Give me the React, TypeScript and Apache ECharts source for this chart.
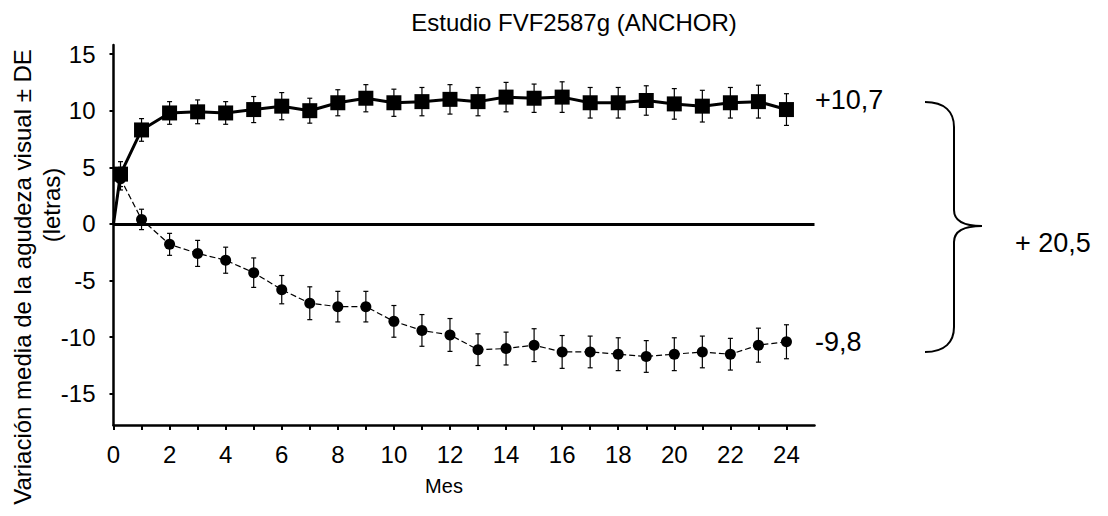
import React, { useEffect, useRef } from "react";
import * as echarts from "echarts";

const months = [0, 0.25, 1, 2, 3, 4, 5, 6, 7, 8, 9, 10, 11, 12, 13, 14, 15, 16, 17, 18, 19, 20, 21, 22, 23, 24];
const ranibizumab = [0, 4.4, 8.3, 9.8, 9.9, 9.8, 10.1, 10.4, 10.0, 10.7, 11.1, 10.7, 10.8, 11.0, 10.8, 11.2, 11.1, 11.2, 10.7, 10.7, 10.9, 10.6, 10.4, 10.7, 10.8, 10.1];
const ranibizumabSD = [0, 1.1, 1.0, 1.0, 1.05, 1.0, 1.15, 1.2, 1.1, 1.15, 1.2, 1.2, 1.25, 1.3, 1.25, 1.3, 1.25, 1.35, 1.35, 1.35, 1.3, 1.35, 1.4, 1.35, 1.45, 1.4];
const pdt = [0, 4.0, 0.4, -1.8, -2.6, -3.2, -4.3, -5.8, -7.0, -7.3, -7.3, -8.6, -9.4, -9.8, -11.1, -11.0, -10.7, -11.3, -11.3, -11.5, -11.7, -11.5, -11.3, -11.5, -10.7, -10.4];
const pdtSD = [0, 1.0, 0.9, 0.97, 1.15, 1.15, 1.3, 1.25, 1.45, 1.35, 1.35, 1.4, 1.4, 1.45, 1.4, 1.45, 1.45, 1.45, 1.4, 1.45, 1.4, 1.45, 1.4, 1.4, 1.5, 1.5];
const yTicks = [-15, -10, -5, 0, 5, 10, 15];
const xTicks = [0, 1, 2, 3, 4, 5, 6, 7, 8, 9, 10, 11, 12, 13, 14, 15, 16, 17, 18, 19, 20, 21, 22, 23, 24];
const xLabels = [0, 2, 4, 6, 8, 10, 12, 14, 16, 18, 20, 22, 24];

const titleText = "Estudio FVF2587g (ANCHOR)";
const yName = "Variación media de la agudeza visual ± DE";
const yUnit = "(letras)";
const xName = "Mes";
const endTop = "+10,7";
const endBottom = "-9,8";
const diffText = "+ 20,5";

const FONT = "'Liberation Sans', Arial, Helvetica, sans-serif";

const braceD =
  "M0,0 C20,0 29,10 29,25 L29,108 C29,118 38,124 57,124 C38,124 29,130 29,140 L29,225 C29,240 20,250 0,250";

let registered = false;

export default function App() {
  const ref = useRef<HTMLDivElement>(null);
  useEffect(() => {
    document.body.style.margin = "0";
    if (!registered) {
      echarts.graphic.registerShape("brace", echarts.graphic.extendPath(braceD, {}));
      registered = true;
    }
    const chart = echarts.init(ref.current!, null, { renderer: "svg" });
    const errRender = (params: any, api: any) => {
      const x = api.value(0);
      const y = api.value(1);
      const e = api.value(2);
      if (!e) return null;
      const t = api.coord([x, y + e]);
      const b = api.coord([x, y - e]);
      const w = 2.5;
      const st = { stroke: "#000", lineWidth: 1.2 };
      return {
        type: "group",
        children: [
          { type: "line", shape: { x1: t[0], y1: t[1], x2: b[0], y2: b[1] }, style: st },
          { type: "line", shape: { x1: t[0] - w, y1: t[1], x2: t[0] + w, y2: t[1] }, style: st },
          { type: "line", shape: { x1: b[0] - w, y1: b[1], x2: b[0] + w, y2: b[1] }, style: st },
        ],
      };
    };
    const mkData = (vals: number[]) =>
      months.map((m, i) =>
        i === 0 ? { value: [m, vals[i]], symbolSize: 0 } : { value: [m, vals[i]] }
      );
    const txt = { color: "#000", fontFamily: FONT };
    chart.setOption({
      animation: false,
      backgroundColor: "#fff",
      grid: { left: 113.5, top: 45, width: 701, height: 380, containLabel: false },
      xAxis: {
        type: "value",
        min: 0,
        max: 25,
        axisLine: { onZero: false, lineStyle: { color: "#000", width: 2.5 } },
        axisTick: { customValues: xTicks, length: 5, lineStyle: { color: "#000", width: 2 } },
        axisLabel: { customValues: xLabels, fontSize: 24, margin: 17, ...txt },
        splitLine: { show: false },
      },
      yAxis: {
        type: "value",
        min: -17.75,
        max: 15.8,
        axisLine: { onZero: false, lineStyle: { color: "#000", width: 2.5 } },
        axisTick: { customValues: yTicks, length: 4, lineStyle: { color: "#000", width: 2 } },
        axisLabel: { customValues: yTicks, fontSize: 24, margin: 18, ...txt },
        splitLine: { show: false },
      },
      series: [
        {
          type: "line",
          data: [],
          markLine: {
            silent: true,
            symbol: "none",
            label: { show: false },
            lineStyle: { color: "#000", width: 3, type: "solid" },
            data: [{ yAxis: 0 }],
          },
        },
        {
          type: "custom",
          renderItem: errRender,
          data: months.map((m, i) => [m, ranibizumab[i], ranibizumabSD[i]]),
          encode: { x: 0, y: 1 },
          z: 3,
        },
        {
          type: "custom",
          renderItem: errRender,
          data: months.map((m, i) => [m, pdt[i], pdtSD[i]]),
          encode: { x: 0, y: 1 },
          z: 3,
        },
        {
          type: "line",
          data: mkData(pdt),
          symbol: "circle",
          symbolSize: 11,
          itemStyle: { color: "#000" },
          lineStyle: { color: "#000", width: 1.2, type: [6, 3] },
          z: 4,
        },
        {
          type: "line",
          data: mkData(ranibizumab),
          symbol: "rect",
          symbolSize: 15,
          itemStyle: { color: "#000" },
          lineStyle: { color: "#000", width: 3 },
          z: 5,
        },
      ],
      graphic: [
        {
          type: "text",
          x: 574,
          y: 22,
          style: { text: titleText, font: `24px ${FONT}`, fill: "#000", textAlign: "center", textVerticalAlign: "middle" },
        },
        {
          type: "text",
          x: 22,
          y: 277,
          rotation: Math.PI / 2,
          style: { text: yName, font: `24px ${FONT}`, fill: "#000", textAlign: "center", textVerticalAlign: "middle" },
        },
        {
          type: "text",
          x: 51,
          y: 205,
          rotation: Math.PI / 2,
          style: { text: yUnit, font: `24px ${FONT}`, fill: "#000", textAlign: "center", textVerticalAlign: "middle" },
        },
        {
          type: "text",
          x: 444,
          y: 486,
          style: { text: xName, font: `20px ${FONT}`, fill: "#000", textAlign: "center", textVerticalAlign: "middle" },
        },
        {
          type: "text",
          x: 815,
          y: 100,
          style: { text: endTop, font: `27px ${FONT}`, fill: "#000", textAlign: "left", textVerticalAlign: "middle" },
        },
        {
          type: "text",
          x: 815,
          y: 342,
          style: { text: endBottom, font: `27px ${FONT}`, fill: "#000", textAlign: "left", textVerticalAlign: "middle" },
        },
        {
          type: "text",
          x: 1015,
          y: 243,
          style: { text: diffText, font: `27px ${FONT}`, fill: "#000", textAlign: "left", textVerticalAlign: "middle" },
        },
        {
          type: "brace",
          x: 925,
          y: 102,
          style: { fill: "none", stroke: "#000", lineWidth: 2 },
        },
      ],
    });
    return () => chart.dispose();
  }, []);
  return <div ref={ref} style={{ width: 1108, height: 516 }} />;
}
